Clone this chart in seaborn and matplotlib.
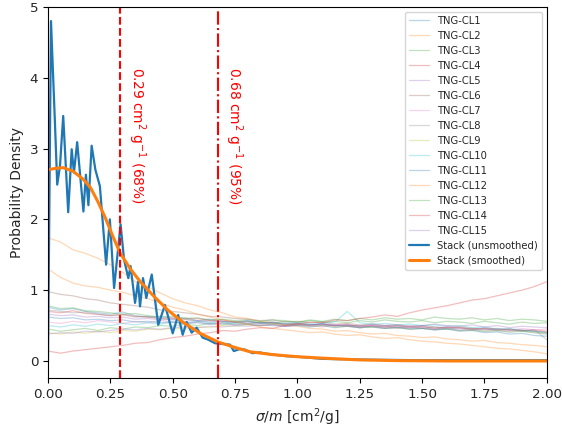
import matplotlib
matplotlib.use("Agg")
import matplotlib.pyplot as plt
import seaborn as sns

# ---------------- data ----------------
cl_x = [0.00, 0.05, 0.10, 0.15, 0.20, 0.25, 0.30, 0.35, 0.40, 0.45,
        0.50, 0.55, 0.60, 0.65, 0.70, 0.75, 0.80, 0.85, 0.90, 0.95,
        1.00, 1.05, 1.10, 1.15, 1.20, 1.25, 1.30, 1.35, 1.40, 1.45,
        1.50, 1.55, 1.60, 1.65, 1.70, 1.75, 1.80, 1.85, 1.90, 1.95, 2.00]

cl1 = [0.76,0.72,0.74,0.70,0.68,0.66,0.69,0.64,0.62,0.63,0.60,0.61,0.57,0.59,0.56,0.55,0.57,0.53,0.54,0.51,0.52,0.50,0.53,0.49,0.50,0.47,0.49,0.46,0.48,0.45,0.46,0.44,0.46,0.43,0.44,0.42,0.43,0.41,0.42,0.40,0.38]
cl2 = [1.74,1.68,1.57,1.52,1.45,1.36,1.25,1.12,1.05,0.96,0.88,0.82,0.78,0.72,0.68,0.62,0.60,0.56,0.54,0.50,0.49,0.46,0.45,0.42,0.43,0.40,0.38,0.39,0.36,0.35,0.33,0.34,0.31,0.30,0.28,0.29,0.26,0.25,0.23,0.22,0.20]
cl3 = [0.45,0.42,0.44,0.46,0.43,0.47,0.45,0.48,0.47,0.50,0.49,0.52,0.50,0.53,0.51,0.54,0.52,0.55,0.53,0.56,0.54,0.57,0.55,0.56,0.54,0.57,0.55,0.58,0.56,0.55,0.57,0.54,0.56,0.55,0.53,0.56,0.54,0.52,0.55,0.53,0.54]
cl4 = [0.70,0.68,0.71,0.67,0.66,0.64,0.66,0.63,0.62,0.60,0.61,0.59,0.60,0.57,0.58,0.55,0.56,0.54,0.55,0.52,0.53,0.51,0.52,0.50,0.51,0.49,0.50,0.48,0.50,0.47,0.49,0.46,0.48,0.47,0.45,0.46,0.44,0.45,0.43,0.44,0.42]
cl5 = [0.66,0.64,0.65,0.62,0.63,0.61,0.62,0.59,0.60,0.58,0.59,0.56,0.57,0.55,0.56,0.54,0.55,0.53,0.54,0.52,0.53,0.51,0.52,0.50,0.51,0.49,0.50,0.48,0.49,0.47,0.48,0.46,0.47,0.45,0.46,0.44,0.45,0.43,0.44,0.42,0.41]
cl6 = [0.98,0.94,0.92,0.88,0.86,0.82,0.80,0.78,0.76,0.72,0.70,0.68,0.66,0.63,0.62,0.60,0.59,0.57,0.58,0.55,0.56,0.54,0.55,0.52,0.53,0.51,0.52,0.50,0.51,0.49,0.50,0.48,0.47,0.48,0.46,0.45,0.46,0.44,0.43,0.42,0.40]
cl7 = [0.55,0.53,0.56,0.54,0.57,0.55,0.53,0.56,0.54,0.57,0.55,0.53,0.55,0.52,0.54,0.51,0.53,0.50,0.52,0.49,0.51,0.50,0.48,0.51,0.49,0.47,0.50,0.48,0.46,0.49,0.47,0.45,0.48,0.46,0.44,0.47,0.45,0.43,0.46,0.44,0.45]
cl8 = [0.72,0.70,0.68,0.69,0.66,0.64,0.65,0.62,0.63,0.60,0.58,0.59,0.56,0.57,0.55,0.56,0.53,0.54,0.52,0.53,0.51,0.52,0.50,0.51,0.49,0.50,0.48,0.50,0.47,0.49,0.46,0.48,0.45,0.47,0.44,0.46,0.43,0.45,0.42,0.44,0.30]
cl9 = [0.40,0.38,0.41,0.39,0.42,0.40,0.43,0.42,0.45,0.44,0.46,0.45,0.48,0.47,0.50,0.49,0.51,0.50,0.52,0.50,0.51,0.49,0.50,0.48,0.49,0.47,0.48,0.46,0.47,0.45,0.46,0.44,0.45,0.43,0.44,0.42,0.43,0.41,0.42,0.40,0.39]
cl10 = [0.50,0.48,0.51,0.49,0.52,0.50,0.53,0.51,0.54,0.52,0.55,0.53,0.56,0.54,0.55,0.53,0.56,0.54,0.55,0.53,0.54,0.52,0.53,0.55,0.70,0.54,0.52,0.53,0.51,0.52,0.50,0.51,0.49,0.50,0.47,0.48,0.45,0.46,0.43,0.42,0.40]
cl11 = [0.62,0.60,0.61,0.58,0.59,0.57,0.58,0.55,0.56,0.54,0.55,0.53,0.54,0.52,0.53,0.51,0.52,0.50,0.51,0.49,0.50,0.48,0.50,0.47,0.49,0.47,0.48,0.46,0.47,0.45,0.46,0.44,0.45,0.42,0.43,0.40,0.41,0.38,0.39,0.36,0.35]
cl12 = [1.30,1.18,1.10,1.06,1.04,1.00,0.97,0.92,0.88,0.82,0.76,0.72,0.66,0.62,0.58,0.55,0.52,0.48,0.46,0.44,0.42,0.40,0.41,0.38,0.36,0.37,0.34,0.32,0.33,0.30,0.28,0.27,0.25,0.24,0.22,0.20,0.18,0.17,0.15,0.13,0.10]
cl13 = [0.78,0.74,0.75,0.71,0.70,0.68,0.66,0.67,0.64,0.62,0.63,0.60,0.61,0.58,0.59,0.57,0.58,0.56,0.58,0.57,0.55,0.58,0.56,0.59,0.57,0.60,0.58,0.61,0.59,0.60,0.58,0.62,0.60,0.59,0.61,0.58,0.60,0.57,0.59,0.58,0.56]
cl14 = [0.14,0.11,0.14,0.16,0.18,0.20,0.22,0.25,0.26,0.30,0.33,0.35,0.38,0.40,0.43,0.42,0.45,0.47,0.46,0.50,0.52,0.55,0.54,0.58,0.57,0.60,0.62,0.65,0.63,0.68,0.72,0.75,0.78,0.82,0.86,0.88,0.92,0.96,1.00,1.05,1.12]
cl15 = [0.38,0.40,0.39,0.42,0.41,0.43,0.45,0.44,0.46,0.45,0.47,0.48,0.47,0.49,0.48,0.50,0.49,0.51,0.50,0.49,0.51,0.50,0.52,0.50,0.51,0.49,0.52,0.50,0.51,0.49,0.50,0.52,0.50,0.49,0.51,0.48,0.50,0.47,0.49,0.48,0.47]

cluster_names = ["TNG-CL1", "TNG-CL2", "TNG-CL3", "TNG-CL4", "TNG-CL5",
                 "TNG-CL6", "TNG-CL7", "TNG-CL8", "TNG-CL9", "TNG-CL10",
                 "TNG-CL11", "TNG-CL12", "TNG-CL13", "TNG-CL14", "TNG-CL15"]
cluster_series = [cl1, cl2, cl3, cl4, cl5, cl6, cl7, cl8, cl9, cl10,
                  cl11, cl12, cl13, cl14, cl15]

stack_x = [0.000,0.012,0.028,0.037,0.048,0.061,0.081,0.095,0.104,0.117,0.142,0.152,0.162,0.175,0.190,0.208,0.233,0.248,0.265,0.291,0.305,0.322,0.331,0.349,0.361,0.369,0.381,0.394,0.416,0.442,0.469,0.500,0.522,0.540,0.556,0.576,0.596,0.620,0.643,0.670,0.700,0.730,0.745,0.770,0.790,0.820,0.850,0.880,0.950,1.000,1.100,1.250,1.500,1.750,2.000]
stack_y = [0.00,4.80,3.35,2.49,2.75,3.46,2.10,2.99,2.66,3.09,2.11,2.63,2.20,3.04,2.70,2.47,1.36,2.00,1.03,1.93,1.43,1.17,1.34,0.82,1.12,0.77,1.17,0.89,1.22,0.51,0.79,0.39,0.65,0.37,0.55,0.40,0.47,0.33,0.30,0.25,0.24,0.23,0.14,0.17,0.16,0.11,0.12,0.10,0.07,0.06,0.03,0.02,0.01,0.01,0.01]

smooth_x = [0.00,0.03,0.06,0.10,0.14,0.17,0.20,0.23,0.26,0.29,0.33,0.37,0.42,0.48,0.54,0.61,0.68,0.75,0.81,0.90,1.00,1.10,1.25,1.40,1.60,1.80,2.00]
smooth_y = [2.70,2.72,2.73,2.68,2.57,2.45,2.25,2.02,1.76,1.52,1.30,1.12,0.93,0.72,0.55,0.39,0.27,0.19,0.13,0.09,0.06,0.04,0.015,0.005,0.0,0.0,0.0]

limits = [0.29, 0.68]
limit_labels = ["0.29 cm$^2$ g$^{-1}$ (68%)", "0.68 cm$^2$ g$^{-1}$ (95%)"]

# ---------------- plot ----------------
sns.set_theme(style="ticks")
plt.rcParams["font.family"] = ["DejaVu Sans"]
plt.rcParams["axes.edgecolor"] = "black"

fig = plt.figure(figsize=(5.62, 4.30), dpi=100)
ax = fig.add_axes([0.0854, 0.121, 0.973 - 0.0854, 0.984 - 0.121])

palette = sns.color_palette("tab10", 10)
for i, (name, vals) in enumerate(zip(cluster_names, cluster_series)):
    sns.lineplot(x=cl_x, y=vals, ax=ax, color=palette[i % 10], alpha=0.3,
                 linewidth=0.9, label=name)

sns.lineplot(x=stack_x, y=stack_y, ax=ax, color=palette[0], linewidth=1.6,
             label="Stack (unsmoothed)")
sns.lineplot(x=smooth_x, y=smooth_y, ax=ax, color=palette[1], linewidth=2.2,
             label="Stack (smoothed)")

ax.axvline(limits[0], color="red", linestyle="--", linewidth=1.5)
ax.axvline(limits[1], color="red", linestyle="-.", linewidth=1.5)
for xv, lab in zip(limits, limit_labels):
    ax.text(xv + 0.022, 4.15, lab, rotation=270, color="red", fontsize=10,
            ha="left", va="top")

ax.set_xlim(0, 2.0)
ax.set_ylim(-0.24, 5)
ax.set_xticks([0.0, 0.25, 0.5, 0.75, 1.0, 1.25, 1.5, 1.75, 2.0])
ax.set_xticklabels(["0.00", "0.25", "0.50", "0.75", "1.00", "1.25", "1.50", "1.75", "2.00"])
ax.set_yticks([0, 1, 2, 3, 4, 5])
ax.tick_params(labelsize=9.7, length=3.5, width=0.8, color="black")
ax.set_xlabel(r"$\sigma/m$ [cm$^2$/g]", fontsize=10)
ax.set_ylabel("Probability Density", fontsize=10)
for s in ax.spines.values():
    s.set_linewidth(0.8)

ax.legend(loc="upper right", fontsize=7.2, frameon=True, framealpha=0.8,
          edgecolor="0.8", fancybox=True, labelspacing=0.5)

fig.savefig("out.png", dpi=100)
